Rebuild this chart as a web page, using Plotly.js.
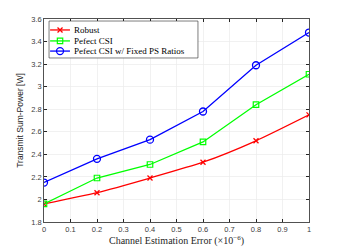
<!DOCTYPE html>
<html><head><meta charset="utf-8">
<script src="https://cdn.plot.ly/plotly-3.0.1.min.js"></script>
<style>body{margin:0;padding:0;background:#fff}#c{width:342px;height:250px}</style>
</head><body><div id="c"></div>
<script>
var xVals = [0, 0.2, 0.4, 0.6, 0.8, 1];
var robust = [1.96, 2.06, 2.19, 2.33, 2.52, 2.75];
var perfect = [1.96, 2.19, 2.31, 2.51, 2.84, 3.11];
var fixedPS = [2.15, 2.36, 2.53, 2.78, 3.19, 3.48];
var names = ['Robust', 'Pefect CSI', 'Pefect CSI w/ Fixed PS Ratios'];
var colors = ['#ff0000', '#00ff00', '#0000ff'];
var xTicks = [0, 0.1, 0.2, 0.3, 0.4, 0.5, 0.6, 0.7, 0.8, 0.9, 1];
var xTickText = ['0', '0.1', '0.2', '0.3', '0.4', '0.5', '0.6', '0.7', '0.8', '0.9', '1'];
var yTicks = [1.8, 2, 2.2, 2.4, 2.6, 2.8, 3, 3.2, 3.4, 3.6];
var yTickText = ['1.8', '2', '2.2', '2.4', '2.6', '2.8', '3', '3.2', '3.4', '3.6'];

var serif = 'Liberation Serif, Times New Roman, serif';
var traces = [
  {x: xVals, y: robust, name: names[0], mode: 'lines+markers', line: {color: colors[0], width: 1.3, shape: 'spline', smoothing: 0.6},
   marker: {symbol: 'x-thin-open', size: 5, color: colors[0], line: {color: colors[0], width: 1.3}}},
  {x: xVals, y: perfect, name: names[1], mode: 'lines+markers', line: {color: colors[1], width: 1.3},
   marker: {symbol: 'square-open', size: 5.5, color: colors[1], line: {width: 1.2}}},
  {x: xVals, y: fixedPS, name: names[2], mode: 'lines+markers', line: {color: colors[2], width: 1.3},
   marker: {symbol: 'circle-open', size: 7, color: colors[2], line: {width: 1.3}}}
];

// custom compact legend (paper coordinates of the plot area)
var rowsY = [0.946, 0.892, 0.842];
var keyX0 = 0.023, keyX1 = 0.098, keyXm = 0.0605, textX = 0.106;
var shapes = [{type: 'rect', xref: 'paper', yref: 'paper', x0: 0.019, x1: 0.581, y0: 0.808, y1: 0.990,
  line: {color: '#262626', width: 0.6}, fillcolor: '#ffffff', layer: 'above'}];
var annotations = [];
for (var i = 0; i < 3; i++) {
  shapes.push({type: 'line', xref: 'paper', yref: 'paper', x0: keyX0, x1: keyX1, y0: rowsY[i], y1: rowsY[i],
    line: {color: colors[i], width: 1.3}, layer: 'above'});
  annotations.push({xref: 'paper', yref: 'paper', x: textX, y: rowsY[i], xanchor: 'left', yanchor: 'middle',
    text: names[i], showarrow: false, font: {family: serif, size: 9, color: '#000'}});
}
var mk = {xref: 'paper', yref: 'paper', xsizemode: 'pixel', ysizemode: 'pixel', xanchor: keyXm, layer: 'above'};
shapes.push(Object.assign({}, mk, {type: 'path', yanchor: rowsY[0], path: 'M-2.5,-2.5L2.5,2.5M-2.5,2.5L2.5,-2.5', line: {color: colors[0], width: 1.3}}));
shapes.push(Object.assign({}, mk, {type: 'rect', yanchor: rowsY[1], x0: -2.7, x1: 2.7, y0: -2.7, y1: 2.7, line: {color: colors[1], width: 1.2}, fillcolor: 'rgba(0,0,0,0)'}));
shapes.push(Object.assign({}, mk, {type: 'circle', yanchor: rowsY[2], x0: -3.5, x1: 3.5, y0: -3.5, y1: 3.5, line: {color: colors[2], width: 1.3}, fillcolor: 'rgba(0,0,0,0)'}));

var axCommon = {showline: true, mirror: 'ticks', linecolor: '#262626', linewidth: 0.8, ticks: 'inside', ticklen: 3,
  tickcolor: '#262626', showgrid: true, gridcolor: '#ebebeb', gridwidth: 0.7, zeroline: false,
  tickfont: {family: 'Liberation Sans', size: 7.5, color: '#404040'}};
var layout = {
  width: 342, height: 250, margin: {l: 44, r: 33, t: 19, b: 28},
  paper_bgcolor: '#fff', plot_bgcolor: '#fff', showlegend: false,
  xaxis: Object.assign({}, axCommon, {range: [0, 1], tickvals: xTicks, ticktext: xTickText,
    title: {text: 'Channel Estimation Error (×10<sup>−6</sup>)', standoff: 3, font: {family: serif, size: 10, color: '#262626'}}}),
  yaxis: Object.assign({}, axCommon, {range: [1.8, 3.6], tickvals: yTicks, ticktext: yTickText,
    title: {text: 'Transmit Sum-Power [W]', standoff: 6, font: {family: 'Liberation Sans', size: 8.5, color: '#262626'}}}),
  shapes: shapes, annotations: annotations
};
Plotly.newPlot('c', traces, layout, {staticPlot: true, displayModeBar: false});
</script></body></html>
